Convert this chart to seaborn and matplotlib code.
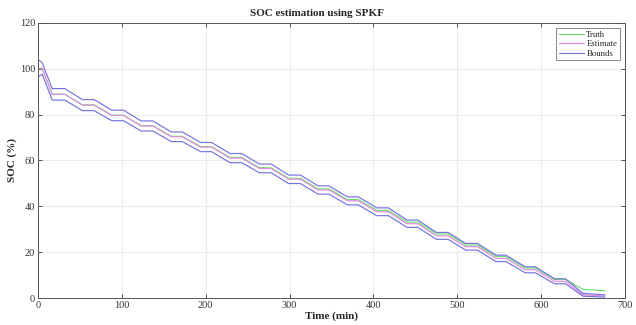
import matplotlib
matplotlib.use("Agg")
import matplotlib.pyplot as plt
import seaborn as sns
import pandas as pd

# Vertex times (min)
time_min = [0, 5, 17, 32, 53, 67, 88, 102, 123, 137, 159, 172, 194, 207, 229, 243,
            264, 278, 299, 313, 334, 347, 369, 382, 404, 418, 440, 453, 475, 489,
            510, 524, 546, 558, 581, 593, 616, 629, 650, 676]

soc_truth = [100.0, 100.0, 88.8, 88.8, 84.2, 84.2, 79.7, 79.7, 75.1, 75.1, 70.5, 70.5,
             66.0, 66.0, 61.3, 61.3, 56.8, 56.8, 52.2, 52.2, 47.6, 47.6, 42.9, 42.9,
             38.2, 38.2, 33.1, 33.1, 27.9, 27.9, 23.1, 23.1, 18.1, 18.1, 13.1, 13.1,
             8.1, 8.1, 3.8, 3.2]

soc_estimate = [100.0, 100.2, 88.8, 88.8, 84.1, 84.1, 79.6, 79.6, 75.0, 75.0, 70.3, 70.3,
                65.8, 65.8, 61.0, 61.0, 56.5, 56.5, 51.8, 51.8, 47.1, 47.1, 42.4, 42.4,
                37.6, 37.6, 32.4, 32.4, 27.1, 27.1, 22.4, 22.4, 17.3, 17.3, 12.3, 12.3,
                7.3, 7.3, 1.4, 0.9]

soc_upper = [104.0, 102.6, 91.3, 91.3, 86.5, 86.5, 81.9, 81.9, 77.2, 77.2, 72.4, 72.4,
             67.8, 67.8, 63.0, 63.0, 58.4, 58.4, 53.6, 53.6, 48.9, 48.9, 44.1, 44.1,
             39.3, 39.3, 34.0, 34.0, 28.6, 28.6, 23.8, 23.8, 18.7, 18.7, 13.6, 13.6,
             8.4, 8.4, 2.0, 1.4]

soc_lower = [96.4, 97.6, 86.3, 86.3, 81.7, 81.7, 77.3, 77.3, 72.8, 72.8, 68.2, 68.2,
             63.8, 63.8, 59.0, 59.0, 54.6, 54.6, 49.9, 49.9, 45.3, 45.3, 40.6, 40.6,
             35.9, 35.9, 30.8, 30.8, 25.6, 25.6, 20.9, 20.9, 15.9, 15.9, 11.0, 11.0,
             6.2, 6.2, 0.8, 0.4]

x_ticks = [0, 100, 200, 300, 400, 500, 600, 700]
y_ticks = [0, 20, 40, 60, 80, 100, 120]

sns.set_theme(style="ticks")
plt.rcParams['font.family'] = ['Liberation Serif', 'DejaVu Serif']

df = pd.DataFrame({"t": time_min, "truth": soc_truth, "est": soc_estimate,
                   "up": soc_upper, "lo": soc_lower})

fig = plt.figure(figsize=(6.36, 3.25), dpi=100)
ax = fig.add_axes([0.0597, 0.083, 0.923, 0.847])

lw = 0.85
c_truth = "#6ee06e"
c_est = "#e48ae4"
c_bnd = "#7474dc"
sns.lineplot(data=df, x="t", y="truth", ax=ax, color=c_truth, lw=lw, label="Truth")
sns.lineplot(data=df, x="t", y="est", ax=ax, color=c_est, lw=lw, label="Estimate")
sns.lineplot(data=df, x="t", y="up", ax=ax, color=c_bnd, lw=lw, label="Bounds")
sns.lineplot(data=df, x="t", y="lo", ax=ax, color=c_bnd, lw=lw, label="_nolegend_")

ax.set_xlim(0, 700)
ax.set_ylim(0, 120)
ax.set_xticks(x_ticks)
ax.set_yticks(y_ticks)
ax.tick_params(direction="in", length=3, width=0.6, colors="#333333", labelsize=7.5,
               top=True, right=True, pad=2)
ax.grid(True, color="#e8e8e8", lw=0.6)
ax.set_axisbelow(True)
for s in ax.spines.values():
    s.set_color("#555555")
    s.set_linewidth(0.7)

ax.set_xlabel("Time (min)", fontsize=8, fontweight="bold", labelpad=1)
ax.set_ylabel("SOC (%)", fontsize=8, fontweight="bold", labelpad=2)
ax.set_title("SOC estimation using SPKF", fontsize=8, fontweight="bold", pad=5, x=0.475)

leg = ax.legend(loc="upper right", fontsize=6.3, frameon=True, fancybox=False,
                handlelength=2.8, handletextpad=0.3, borderpad=0.3, labelspacing=0.15,
                borderaxespad=0.6)
leg.get_frame().set_edgecolor("#555555")
leg.get_frame().set_linewidth(0.6)

fig.savefig("out.png", dpi=100)
